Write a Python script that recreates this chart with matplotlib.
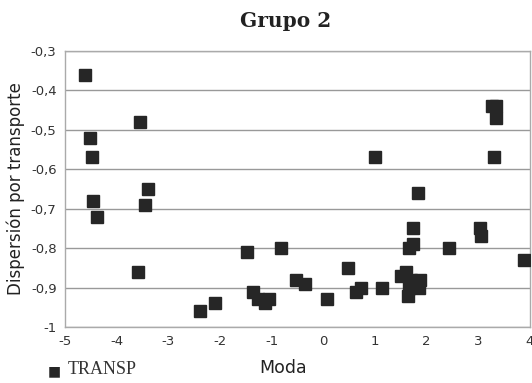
import numpy as np
import matplotlib.pyplot as plt
from matplotlib.ticker import FixedLocator, FuncFormatter

# valores (Moda, Dispersion por transporte)
moda = [-4.61, -4.51, -4.48, -4.45, -4.38, -3.54, -3.39, -3.45, -3.59,
        -2.39, -2.10, -1.48, -0.82, -1.36, -1.26, -1.13, -1.05, -0.52,
        -0.36, 0.07, 0.47, 0.64, 0.74, 1.14, 1.00, 1.83, 1.74, 1.73,
        1.66, 1.50, 1.60, 1.69, 1.88, 1.86, 1.65, 1.66, 2.44, 3.04,
        3.05, 3.27, 3.34, 3.34, 3.30, 3.88]
dispersion = [-0.36, -0.52, -0.57, -0.68, -0.72, -0.48, -0.65, -0.69, -0.86,
              -0.96, -0.94, -0.81, -0.80, -0.91, -0.93, -0.94, -0.93, -0.88,
              -0.89, -0.93, -0.85, -0.91, -0.90, -0.90, -0.57, -0.66, -0.75,
              -0.79, -0.80, -0.87, -0.86, -0.88, -0.88, -0.90, -0.92, -0.90,
              -0.80, -0.75, -0.77, -0.44, -0.44, -0.47, -0.57, -0.83]

xticks = list(range(-5, 5))
yticks = [-1.0, -0.9, -0.8, -0.7, -0.6, -0.5, -0.4, -0.3]

fig = plt.figure(figsize=(5.32, 3.83), dpi=100)
ax = fig.add_axes([0.122, 0.146, 0.874, 0.721])

ax.plot(moda, dispersion, linestyle='none', marker='s', markersize=8.5,
        color='#262626', zorder=3)

ax.set_xlim(-5, 4)
ax.set_ylim(-1, -0.3)
ax.xaxis.set_major_locator(FixedLocator(xticks))
ax.yaxis.set_major_locator(FixedLocator(yticks))


def coma(v, pos):
    if abs(v - round(v)) < 1e-9:
        return '%d' % round(v)
    return ('%.1f' % v).replace('.', ',')


ax.xaxis.set_major_formatter(FuncFormatter(coma))
ax.yaxis.set_major_formatter(FuncFormatter(coma))
ax.tick_params(length=0, labelsize=9.5, colors='#333333', pad=6)
ax.grid(axis='y', color='#999999', linewidth=1)
ax.set_axisbelow(True)
for s in ax.spines.values():
    s.set_color('#aaaaaa')
    s.set_linewidth(1)

ax.set_xlabel('Moda', fontsize=12.5, color='#222222')
ax.xaxis.set_label_coords(0.469, -0.115)
ax.set_ylabel('Dispersión por transporte', fontsize=12, color='#222222',
              labelpad=4)
fig.text(0.536, 0.945, 'Grupo 2', ha='center', va='center', fontsize=14.5,
         fontweight='bold', family='DejaVu Serif', color='#222222')

fig.text(0.09, 0.012, '■', ha='left', va='bottom', fontsize=10, color='#262626')
fig.text(0.127, 0.012, 'TRANSP', ha='left', va='bottom', fontsize=13,
         family='Liberation Serif', color='#333333')

fig.savefig('out.png', dpi=100)
